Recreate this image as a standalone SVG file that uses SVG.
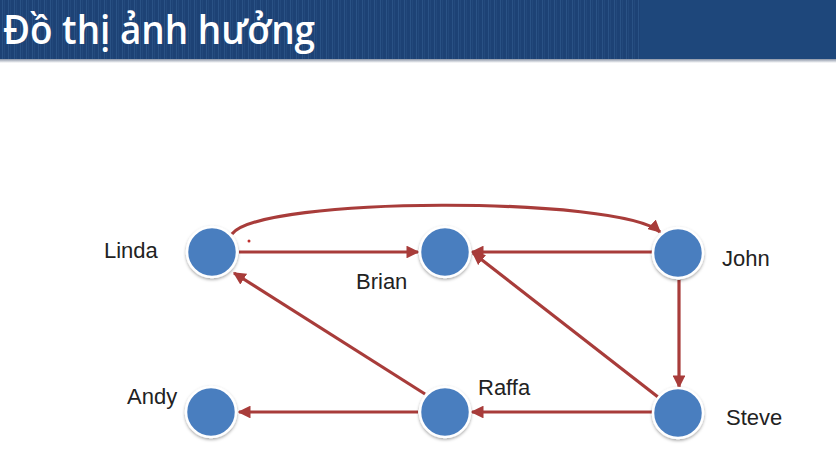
<svg xmlns="http://www.w3.org/2000/svg" width="836" height="453" viewBox="0 0 836 453">
<defs>
<pattern id="stripes" width="6" height="60" patternUnits="userSpaceOnUse">
<rect width="6" height="60" fill="#1d4275"/>
<rect x="2" width="1" height="60" fill="#2a5285"/>
<rect x="4" width="1" height="60" fill="#23497c"/>
</pattern>
<linearGradient id="shadow" x1="0" y1="0" x2="0" y2="1">
<stop offset="0" stop-color="#8a94a6"/>
<stop offset="1" stop-color="#ffffff"/>
</linearGradient>
<filter id="ds" x="-30%" y="-30%" width="160%" height="160%">
<feDropShadow dx="0" dy="1.5" stdDeviation="1.5" flood-color="#000" flood-opacity="0.35"/>
</filter>
<marker id="arr" viewBox="0 0 10 10" refX="9" refY="5" markerWidth="4" markerHeight="4" orient="auto" markerUnits="strokeWidth">
<path d="M0,0 L10,5 L0,10 z" fill="#a83c3a"/>
</marker>
</defs>
<style>
.edge{fill:none;stroke:#a83c3a;stroke-width:3.2}
.node{fill:#4a7ebf;stroke:#ffffff;stroke-width:2.5;filter:url(#ds)}
.lbl{font-family:"Liberation Sans",Arial,sans-serif;font-size:22px;fill:#222222}
.title{font-family:"Open Sans","DejaVu Sans",sans-serif;font-size:40px;font-weight:600;fill:#ffffff}
</style>
<rect width="836" height="453" fill="#ffffff"/>
<g id="header">
<rect x="0" y="0" width="836" height="59" fill="#1e477b"/>
<rect x="0" y="0" width="640" height="59" fill="url(#stripes)"/>
<rect x="0" y="59" width="836" height="4" fill="url(#shadow)"/>
<text class="title" x="3" y="44" textLength="312" lengthAdjust="spacingAndGlyphs">Đồ thị ảnh hưởng</text>
</g>
<g id="connectors">
<path class="edge" d="M232,234 C260,196 620,196 660,232" marker-end="url(#arr)"/>
<line class="edge" x1="239" y1="252" x2="418" y2="252" marker-end="url(#arr)"/>
<line class="edge" x1="652" y1="252" x2="472" y2="252" marker-end="url(#arr)"/>
<line class="edge" x1="679" y1="280" x2="679" y2="387" marker-end="url(#arr)"/>
<line class="edge" x1="658" y1="397" x2="473" y2="253" marker-end="url(#arr)"/>
<line class="edge" x1="652" y1="412" x2="472" y2="412" marker-end="url(#arr)"/>
<line class="edge" x1="425" y1="394" x2="234" y2="273" marker-end="url(#arr)"/>
<line class="edge" x1="418" y1="412" x2="239" y2="412" marker-end="url(#arr)"/>
<circle cx="249" cy="241" r="1.5" fill="#c0302e"/>
</g>
<g id="linda"><circle class="node" cx="212" cy="252" r="25"/><text class="lbl" x="104" y="258">Linda</text></g>
<g id="brian"><circle class="node" cx="445" cy="252" r="25"/><text class="lbl" x="356" y="289">Brian</text></g>
<g id="john"><circle class="node" cx="678" cy="253" r="25"/><text class="lbl" x="722" y="266">John</text></g>
<g id="andy"><circle class="node" cx="211" cy="412" r="25"/><text class="lbl" x="127" y="404">Andy</text></g>
<g id="raffa"><circle class="node" cx="445" cy="412" r="25"/><text class="lbl" x="478" y="395">Raffa</text></g>
<g id="steve"><circle class="node" cx="678" cy="413" r="25"/><text class="lbl" x="726" y="425">Steve</text></g>
</svg>
